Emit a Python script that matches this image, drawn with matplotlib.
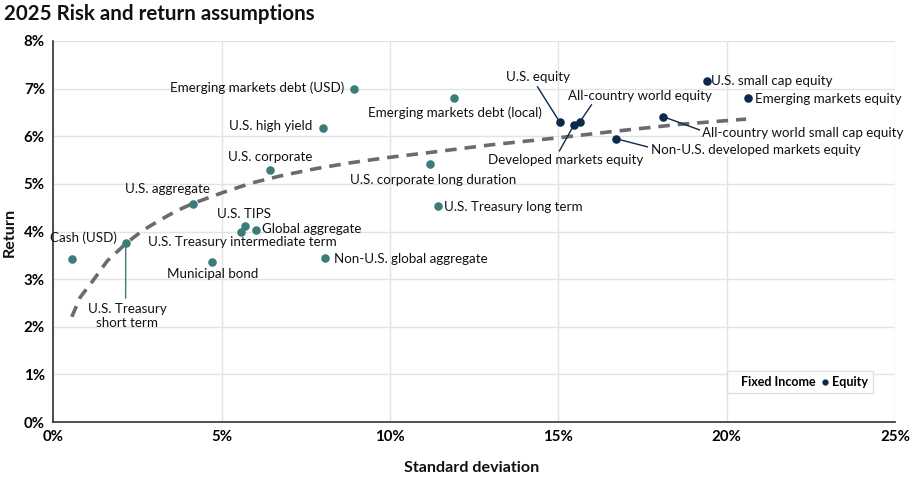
import matplotlib
matplotlib.use("Agg")
import matplotlib.pyplot as plt
from matplotlib.lines import Line2D

plt.rcParams['font.family'] = ['Lato', 'DejaVu Sans']

# ---- data ----
fi_names = ["Cash (USD)", "U.S. Treasury\nshort term", "U.S. aggregate", "U.S. TIPS",
            "U.S. Treasury intermediate term", "Global aggregate", "Municipal bond",
            "Non-U.S. global aggregate", "Emerging markets debt (USD)", "U.S. high yield",
            "U.S. corporate", "Emerging markets debt (local)", "U.S. corporate long duration",
            "U.S. Treasury long term"]
fi_sd = [0.55, 2.15, 4.15, 5.68, 5.57, 6.01, 4.71, 8.07, 8.92, 8.00, 6.43, 11.89, 11.18, 11.42]
fi_ret = [3.43, 3.75, 4.58, 4.12, 4.00, 4.03, 3.35, 3.45, 7.00, 6.18, 5.30, 6.81, 5.42, 4.54]

eq_names = ["U.S. equity", "Developed markets equity", "All-country world equity",
            "U.S. small cap equity", "Emerging markets equity",
            "All-country world small cap equity", "Non-U.S. developed markets equity"]
eq_sd = [15.04, 15.46, 15.64, 19.42, 20.65, 18.12, 16.71]
eq_ret = [6.30, 6.23, 6.30, 7.16, 6.80, 6.41, 5.95]

curve_sd = [0.55, 0.8, 1.19, 1.6, 2.16, 2.65, 3.17, 3.65, 4.15, 5.04, 5.9, 6.82, 7.8, 8.80, 9.9,
            11.08, 13.0, 15.03, 16.62, 18.6, 20.58]
curve_ret = [2.21, 2.62, 2.98, 3.38, 3.75, 4.02, 4.24, 4.43, 4.59, 4.82, 5.02, 5.18, 5.32, 5.44,
             5.55, 5.65, 5.82, 5.97, 6.10, 6.25, 6.36]

x_ticks = [0, 5, 10, 15, 20, 25]
y_ticks = [0, 1, 2, 3, 4, 5, 6, 7, 8]

TEAL = "#3a7c78"
NAVY = "#0c2a4c"

W, H = 916, 480
fig = plt.figure(figsize=(W / 100, H / 100), dpi=100)
ax = fig.add_axes([0.0582, 0.1208, 0.9188, 0.7938])

ax.plot(curve_sd, curve_ret, linestyle=(0, (3.2, 2.2)), color="#6b6b6b", lw=2.6, zorder=2,
        dash_capstyle='butt', dash_joinstyle='round')
ax.scatter(fi_sd, fi_ret, s=38, color=TEAL, zorder=4, linewidths=0)
ax.scatter(eq_sd, eq_ret, s=38, color=NAVY, zorder=4, linewidths=0)

ax.set_xlim(0, 25)
ax.set_ylim(0, 8)
ax.set_xticks(x_ticks)
ax.set_xticklabels([f"{v}%" for v in x_ticks])
ax.set_yticks(y_ticks)
ax.set_yticklabels([f"{v}%" for v in y_ticks])
ax.grid(True, color="#e3e3e3", lw=1)
ax.set_axisbelow(True)
for s in ["top", "right"]:
    ax.spines[s].set_visible(False)
for s in ["left", "bottom"]:
    ax.spines[s].set_color("#333333")
    ax.spines[s].set_linewidth(1.2)
ax.tick_params(length=0, labelsize=10.8)
for lab in ax.get_xticklabels() + ax.get_yticklabels():
    lab.set_fontweight("bold")
ax.tick_params(axis='y', pad=6)
ax.tick_params(axis='x', pad=6)

fig.text(472 / W, 1 - 468 / H, "Standard deviation", fontsize=11.6, fontweight="bold",
         ha="center", va="center", color="#111111")
fig.text(10 / W, 1 - 232 / H, "Return", fontsize=11.6, fontweight="bold", rotation=90,
         ha="center", va="center", color="#111111")
fig.text(4 / W, 1 - 14 / H, "2025 Risk and return assumptions", fontsize=14.8, fontweight="bold",
         va="center", ha="left", color="#111111")

FS = 9.6
bbox = dict(facecolor="white", edgecolor="none", pad=0.6)

def px2d(px, py):
    # convert reference pixel positions into data coordinates (for label placement)
    return ((px - 53.3) / 33.7, (422 - py) / 47.6)

fi_labels = [
    (0, (83, 238), "center", None),
    (1, (127, 316), "center", (125.7, 298)),
    (2, (168, 189), "center", None),
    (3, (244, 214), "center", None),
    (4, (243, 242), "center", None),
    (5, (262, 229), "left", None),
    (6, (213, 274), "center", None),
    (7, (334, 259), "left", None),
    (8, (345, 88), "right", None),
    (9, (313, 126), "right", None),
    (10, (270, 157), "center", None),
    (11, (455, 113), "center", None),
    (12, (434, 180), "center", None),
    (13, (444, 207), "left", None),
]
for i, pos, ha, lead in fi_labels:
    tx, ty = px2d(*pos)
    ax.text(tx, ty, fi_names[i], ha=ha, va="center", fontsize=FS, color="#111111",
            zorder=3, linespacing=1.15)
    if lead is not None:
        lx, ly = px2d(*lead)
        ax.plot([fi_sd[i], lx], [fi_ret[i], ly], color=TEAL, lw=1, zorder=3)

eq_labels = [
    (0, (538, 77), "center", (538, 87)),
    (1, (566, 160), "center", (560, 151)),
    (2, (641, 96), "center", (592, 105)),
    (3, (712, 81), "left", None),
    (4, (756, 99), "left", None),
    (5, (703, 133), "left", (700, 130)),
    (6, (652, 150), "left", (648, 147)),
]
for i, pos, ha, lead in eq_labels:
    tx, ty = px2d(*pos)
    ax.text(tx, ty, eq_names[i], ha=ha, va="center", fontsize=FS, color="#111111",
            zorder=5, bbox=bbox if i in (5, 6) else None)
    if lead is not None:
        lx, ly = px2d(*lead)
        ax.plot([eq_sd[i], lx], [eq_ret[i], ly], color=NAVY, lw=1, zorder=3)

handles = [Line2D([], [], linestyle="none", marker=None, label="Fixed Income"),
           Line2D([], [], linestyle="none", marker="o", markersize=3.5, color=NAVY, label="Equity")]
leg = ax.legend(handles=handles, loc="lower right", bbox_to_anchor=(0.9735, 0.076), ncol=2,
                frameon=True, fancybox=False, handlelength=0.5, handletextpad=0.25,
                columnspacing=0.5, borderpad=0.4, borderaxespad=0,
                prop={"weight": "bold", "size": 9})
leg.get_frame().set_edgecolor("#d9d9d9")
leg.get_frame().set_linewidth(1)

fig.savefig("out.png", dpi=100)
